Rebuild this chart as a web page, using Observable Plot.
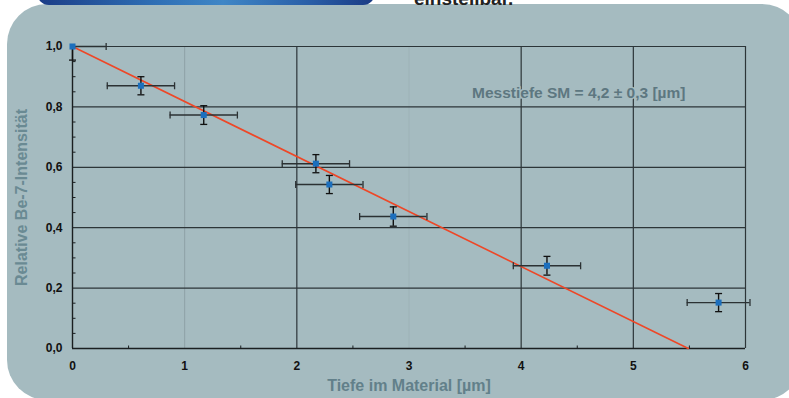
<!DOCTYPE html>
<html>
<head>
<meta charset="utf-8">
<script src="https://cdn.jsdelivr.net/npm/d3@7"></script>
<script src="https://cdn.jsdelivr.net/npm/@observablehq/plot@0.6"></script>
<style>
  html, body { margin: 0; padding: 0; background: #ffffff; }
  #wrap { position: relative; width: 789px; height: 398px; overflow: hidden; background: #ffffff; }
  #panel { position: absolute; left: 7px; top: 4px; width: 795px; height: 396px; border-radius: 40px; background: #a5bbc0; }
  #banner { position: absolute; left: 37px; top: -40px; width: 338px; height: 45px; border-radius: 0 0 12px 12px;
            background: linear-gradient(90deg, #1b3c86 0%, #2f6fb5 35%, #3f86c6 55%, #2a5fa8 80%, #1a3a84 100%); }
  #head { position: absolute; left: 414px; top: -11px; font: bold 19px "Liberation Sans", Arial, sans-serif; line-height: 19px; color: #222; white-space: nowrap; }
  #chart { position: absolute; left: 0; top: 0; }
</style>
</head>
<body>
<div id="wrap">
  <div id="panel"></div>
  <div id="banner"></div>
  <div id="head">einstellbar.</div>
  <div id="chart"></div>
</div>
<script>
// ---- data ----
const depth        = [0.00, 0.61, 1.17, 2.17, 2.29, 2.86, 4.23, 5.76];
const intensity    = [1.000, 0.870, 0.773, 0.612, 0.543, 0.437, 0.274, 0.152];
const depthErr     = [0.30, 0.30, 0.30, 0.30, 0.30, 0.30, 0.30, 0.28];
const intensityErr = [0.045, 0.030, 0.031, 0.030, 0.030, 0.032, 0.031, 0.030];
const fitDepth     = [0, 5.49];
const fitIntensity = [1.0, 0.0];
const xTicks = [0, 1, 2, 3, 4, 5, 6];
const yTicks = [0, 0.2, 0.4, 0.6, 0.8, 1.0];
const xMinor = [0.5, 1.5, 2.5, 3.5, 4.5, 5.5];
const yMinor = [0.05, 0.1, 0.15, 0.25, 0.3, 0.35, 0.45, 0.5, 0.55, 0.65, 0.7, 0.75, 0.85, 0.9, 0.95];
const darkGridX = [2, 4, 5, 6];
const faintGridX = [1];
const veryFaintGridX = [3];
const gridY = [0.2, 0.4, 0.6, 0.8, 1.0];
const xTitle = "Tiefe im Material [µm]";
const yTitle = "Relative Be-7-Intensität";
const note = "Messtiefe SM = 4,2 ± 0,3 [µm]";

// ---- derived table ----
const X0 = 0, X1 = 6, Y0 = 0, Y1 = 1;
const pts = depth.map((x, i) => ({x, y: intensity[i], xe: depthErr[i], ye: intensityErr[i]}));
const clampX = v => Math.max(X0, Math.min(X1 + 0.05, v));
const clampY = v => Math.max(Y0, Math.min(Y1, v));
const xCaps = [];
const yCaps = [];
pts.forEach(p => {
  if (p.x - p.xe >= X0) xCaps.push({x: p.x - p.xe, y: p.y});
  if (p.x + p.xe <= X1 + 0.05) xCaps.push({x: p.x + p.xe, y: p.y});
  if (p.y - p.ye >= Y0) yCaps.push({x: p.x, y: p.y - p.ye});
  if (p.y + p.ye <= Y1) yCaps.push({x: p.x, y: p.y + p.ye});
});
const fit = fitDepth.map((x, i) => ({x, y: fitIntensity[i]}));

const vDash = {draw(ctx) { ctx.moveTo(0, -3.5); ctx.lineTo(0, 3.5); }};
const hDash = {draw(ctx) { ctx.moveTo(-3.5, 0); ctx.lineTo(3.5, 0); }};
const minorV = {draw(ctx) { ctx.moveTo(0, 0); ctx.lineTo(0, -3); }};
const minorH = {draw(ctx) { ctx.moveTo(0, 0); ctx.lineTo(3, 0); }};

const comma = d => d3.format(".1f")(d).replace(".", ",");
const panelColor = "#a5bbc0";
const gridColor = "#2c3538";

const chart = Plot.plot({
  width: 789,
  height: 398,
  marginLeft: 72,
  marginRight: 44,
  marginTop: 46,
  marginBottom: 50,
  style: {background: "transparent", fontFamily: "Liberation Sans, Arial, sans-serif"},
  x: {domain: [X0, X1]},
  y: {domain: [Y0, Y1]},
  marks: [
    Plot.ruleX(veryFaintGridX, {stroke: "#9db2b7", strokeWidth: 1}),
    Plot.ruleX(faintGridX, {stroke: "#8ea2a7", strokeWidth: 1}),
    Plot.ruleX(darkGridX, {stroke: gridColor, strokeWidth: 1.2}),
    Plot.ruleY(gridY, {stroke: gridColor, strokeWidth: 1.2}),
    Plot.ruleX([0], {stroke: "#1a1f21", strokeWidth: 1.4}),
    Plot.ruleY([0], {stroke: "#1a1f21", strokeWidth: 1.4}),
    Plot.dot(xMinor.map(x => ({x, y: 0})), {x: "x", y: "y", symbol: minorV, r: 3, stroke: "#1a1f21", fill: "none", strokeWidth: 1}),
    Plot.dot(yMinor.map(y => ({x: 0, y})), {x: "x", y: "y", symbol: minorH, r: 3, stroke: "#1a1f21", fill: "none", strokeWidth: 1}),
    Plot.axisX({ticks: xTicks, tickSize: 0, tickPadding: 13, tickFormat: d => String(d), fontWeight: "bold", fontSize: 12, fill: "#111", label: null}),
    Plot.axisY({ticks: yTicks, tickSize: 0, tickPadding: 10, tickFormat: comma, fontWeight: "bold", fontSize: 12, fill: "#111", label: null}),
    Plot.text([note], {frameAnchor: "top-right", text: d => d, textAnchor: "end", lineAnchor: "middle", dx: -60, dy: 47,
      fontSize: 15.5, fontWeight: "bold", fill: "#5d7780", stroke: panelColor, strokeWidth: 3}),
    Plot.text([xTitle], {frameAnchor: "bottom", text: d => d, textAnchor: "middle", lineAnchor: "middle", dy: 37, fontSize: 16, fontWeight: "bold", fill: "#62808a"}),
    Plot.text([yTitle], {frameAnchor: "left", text: d => d, textAnchor: "middle", lineAnchor: "middle", rotate: -90, dx: -51, fontSize: 16, fontWeight: "bold", fill: "#6a8a93"}),
    Plot.line(fit, {x: "x", y: "y", stroke: "#ee4727", strokeWidth: 1.6}),
    Plot.ruleY(pts, {y: "y", x1: d => clampX(d.x - d.xe), x2: d => clampX(d.x + d.xe), stroke: "#2b3133", strokeWidth: 1.4}),
    Plot.ruleX(pts, {x: "x", y1: d => clampY(d.y - d.ye), y2: d => clampY(d.y + d.ye), stroke: "#111", strokeWidth: 1.4}),
    Plot.dot(xCaps, {x: "x", y: "y", symbol: vDash, r: 3, stroke: "#2b3133", fill: "none", strokeWidth: 1.3}),
    Plot.dot(yCaps, {x: "x", y: "y", symbol: hDash, r: 3, stroke: "#111", fill: "none", strokeWidth: 1.3}),
    Plot.dot(pts, {x: "x", y: "y", symbol: "square", r: 3.4, fill: "#1c6fbd", stroke: "none"})
  ]
});
document.getElementById("chart").appendChild(chart);
</script>
</body>
</html>
